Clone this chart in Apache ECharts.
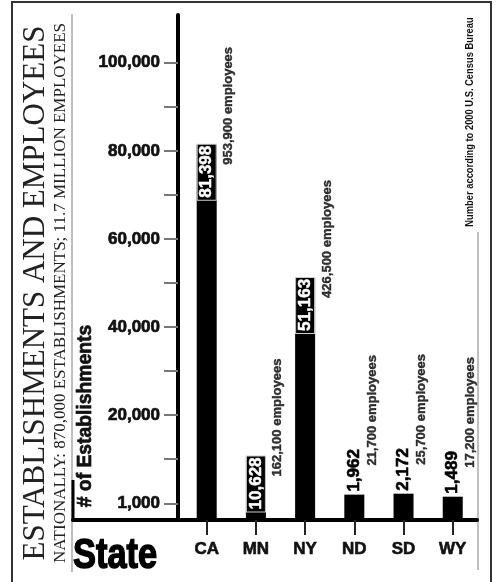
<!DOCTYPE html>
<html>
<head>
<meta charset="utf-8">
<script src="https://cdn.jsdelivr.net/npm/echarts@6/dist/echarts.min.js"></script>
<style>
  html, body { margin: 0; padding: 0; background: #fff; }
  #chart { width: 498px; height: 582px; }
</style>
</head>
<body>
<div id="chart"></div>
<script>
// Establishments and employees by state (2000 U.S. Census Bureau)
const states = ['CA', 'MN', 'NY', 'ND', 'SD', 'WY'];
const establishments = [81398, 10628, 51163, 1962, 2172, 1489];
const employees = [953900, 162100, 426500, 21700, 25700, 17200];

// value axis ticks (the lowest printed label sits on the zero line)
const yTickValues = [0, 20000, 40000, 60000, 80000, 100000];
const yTickLabels = ['1,000', '20,000', '40,000', '60,000', '80,000', '100,000'];
const yMinorTicks = [10000, 30000, 50000, 70000, 90000];

const Y_MIN = -3800;
const Y_MAX = 110850;
const X_MIN = -2.717;
const X_MAX = 5.493;
const INSIDE_MIN = 5000; // bars tall enough to hold their own value label

const SANS = '"Liberation Sans", Arial, sans-serif';
const SERIF = '"Liberation Serif", "DejaVu Serif", serif';

// a thin stroke in the text colour gives the heavy poster-style lettering
const heavy = (color, w) => ({ textBorderColor: color, textBorderWidth: w });

const fmt = n => n.toLocaleString('en-US');
const idx = states.map((s, i) => i);

const barData = establishments.map((v, i) => {
  const inside = v >= INSIDE_MIN;
  return {
    value: [i, v],
    label: inside ? Object.assign({
      position: 'insideTop',
      distance: 0,
      rotate: 90,
      align: 'right',
      verticalAlign: 'middle',
      color: '#fff',
      backgroundColor: '#000',
      borderColor: '#cfcfcf',
      borderWidth: 1,
      padding: [1, 1, 0, 2]
    }, heavy('#fff', 0.5)) : Object.assign({
      position: 'top',
      distance: 3,
      rotate: 90,
      align: 'left',
      verticalAlign: 'middle',
      color: '#000'
    }, heavy('#000', 0.6))
  };
});

const empData = establishments.map((v, i) => {
  const inside = v >= INSIDE_MIN;
  return {
    value: [i, v],
    label: { position: inside ? [22, 20] : [18, -29] }
  };
});

const chart = echarts.init(document.getElementById('chart'), null, { renderer: 'canvas' });

chart.setOption({
  animation: false,
  backgroundColor: '#fff',
  grid: { left: 73, right: 21, top: 15, bottom: 62, containLabel: false },
  xAxis: {
    type: 'value',
    min: X_MIN,
    max: X_MAX,
    splitLine: { show: false },
    axisLine: { show: true, onZero: false, lineStyle: { color: '#000', width: 4 } },
    axisTick: { show: true, customValues: idx, length: 15, lineStyle: { color: '#222', width: 2 } },
    axisLabel: Object.assign({
      customValues: idx,
      formatter: v => states[Math.round(v)] || '',
      margin: 21,
      color: '#111',
      fontFamily: SANS,
      fontWeight: 'bold',
      fontSize: 17
    }, heavy('#111', 0.6))
  },
  yAxis: {
    type: 'value',
    min: Y_MIN,
    max: Y_MAX,
    startValue: Y_MIN,
    offset: -105,
    splitLine: { show: false },
    axisLine: { show: true, onZero: false, lineStyle: { color: '#000', width: 4 } },
    axisTick: {
      show: true,
      customValues: yTickValues.concat(yMinorTicks),
      length: 14,
      lineStyle: { color: '#777', width: 2 }
    },
    axisLabel: Object.assign({
      customValues: yTickValues,
      formatter: v => yTickLabels[yTickValues.indexOf(v)] || '',
      margin: 18,
      color: '#111',
      fontFamily: SANS,
      fontWeight: 'bold',
      fontSize: 17
    }, heavy('#111', 0.7))
  },
  series: [
    {
      name: 'Establishments',
      type: 'bar',
      barWidth: 20,
      itemStyle: { color: '#000' },
      label: {
        show: true,
        formatter: p => fmt(p.value[1]),
        fontFamily: SANS,
        fontWeight: 'bold',
        fontSize: 17
      },
      data: barData
    },
    {
      name: 'Employees',
      type: 'scatter',
      symbolSize: 0,
      itemStyle: { color: 'transparent' },
      label: Object.assign({
        show: true,
        rotate: 90,
        align: 'left',
        verticalAlign: 'middle',
        color: '#000',
        fontFamily: SANS,
        fontWeight: 'bold',
        fontSize: 13,
        formatter: p => fmt(employees[p.dataIndex]) + ' employees'
      }, heavy('#000', 0.4)),
      data: empData
    }
  ],
  graphic: [
    { type: 'rect', silent: true, shape: { x: 12, y: 2, width: 479, height: 620 },
      style: { fill: 'none', stroke: '#333', lineWidth: 2 } },
    { type: 'line', silent: true, shape: { x1: 72, y1: 14, x2: 72, y2: 572 },
      style: { stroke: '#aaa', lineWidth: 1.5 } },
    { type: 'line', silent: true, shape: { x1: 73, y1: 480, x2: 73, y2: 521 },
      style: { stroke: '#000', lineWidth: 3 } },
    { type: 'line', silent: true, shape: { x1: 478, y1: 232, x2: 478, y2: 570 },
      style: { stroke: '#aaa', lineWidth: 1.5 } },
    { type: 'text', silent: true, x: 36, y: 293, rotation: Math.PI / 2,
      style: { text: 'ESTABLISHMENTS AND EMPLOYEES', fontFamily: SERIF, fontSize: 31,
               fill: '#222', align: 'center', verticalAlign: 'middle' } },
    { type: 'text', silent: true, x: 61, y: 293, rotation: Math.PI / 2,
      style: { text: 'NATIONALLY: 870,000 ESTABLISHMENTS; 11.7 MILLION EMPLOYEES', fontFamily: SERIF,
               fontSize: 17, fill: '#222', align: 'center', verticalAlign: 'middle' } },
    { type: 'text', silent: true, x: 85, y: 416, rotation: Math.PI / 2, scaleX: 0.92,
      style: { text: '# of Establishments', fontFamily: SANS, fontWeight: 'bold', fontSize: 21,
               fill: '#111', stroke: '#111', lineWidth: 0.7, align: 'center', verticalAlign: 'middle' } },
    { type: 'text', silent: true, x: 73, y: 556, scaleX: 0.8,
      style: { text: 'State', fontFamily: SANS, fontWeight: 'bold', fontSize: 43,
               fill: '#000', stroke: '#000', lineWidth: 1.5, align: 'left', verticalAlign: 'middle' } },
    { type: 'text', silent: true, x: 470, y: 122, rotation: Math.PI / 2, scaleX: 0.85,
      style: { text: 'Number according to 2000 U.S. Census Bureau', fontFamily: SANS, fontWeight: 'bold',
               fontSize: 11, fill: '#111', align: 'center', verticalAlign: 'middle' } }
  ]
});
</script>
</body>
</html>
